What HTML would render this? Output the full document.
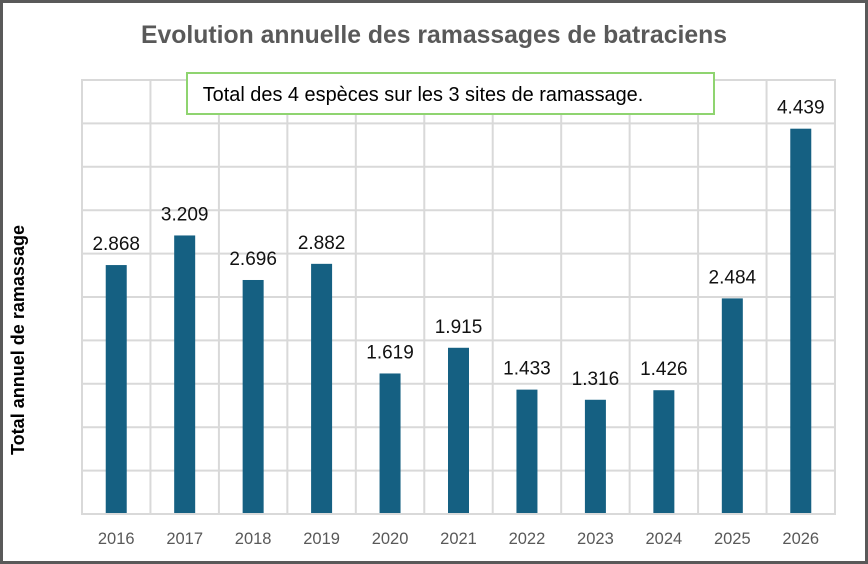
<!DOCTYPE html>
<html>
<head>
<meta charset="utf-8">
<style>
  html, body { margin: 0; padding: 0; background: #ffffff; }
  svg { display: block; }
  text { font-family: "Liberation Sans", Arial, sans-serif; }
</style>
</head>
<body>
<svg width="868" height="564" viewBox="0 0 868 564" xmlns="http://www.w3.org/2000/svg">
  <rect x="0" y="0" width="868" height="564" fill="#ffffff"/>

  <!-- Title -->
  <text x="141" y="43" font-size="25" font-weight="bold" fill="#595959" textLength="586" lengthAdjust="spacingAndGlyphs">Evolution annuelle des ramassages de batraciens</text>

  <!-- Horizontal gridlines -->
  <g stroke="#d9d9d9" stroke-width="2">
    <line x1="82" y1="80" x2="835" y2="80"/>
    <line x1="82" y1="123.4" x2="835" y2="123.4"/>
    <line x1="82" y1="166.8" x2="835" y2="166.8"/>
    <line x1="82" y1="210.2" x2="835" y2="210.2"/>
    <line x1="82" y1="253.6" x2="835" y2="253.6"/>
    <line x1="82" y1="297" x2="835" y2="297"/>
    <line x1="82" y1="340.4" x2="835" y2="340.4"/>
    <line x1="82" y1="383.8" x2="835" y2="383.8"/>
    <line x1="82" y1="427.2" x2="835" y2="427.2"/>
    <line x1="82" y1="470.6" x2="835" y2="470.6"/>
  </g>
  <!-- Vertical gridlines -->
  <g stroke="#d9d9d9" stroke-width="2">
    <line x1="82" y1="79" x2="82" y2="515"/>
    <line x1="150.45" y1="79" x2="150.45" y2="515"/>
    <line x1="218.91" y1="79" x2="218.91" y2="515"/>
    <line x1="287.36" y1="79" x2="287.36" y2="515"/>
    <line x1="355.82" y1="79" x2="355.82" y2="515"/>
    <line x1="424.27" y1="79" x2="424.27" y2="515"/>
    <line x1="492.73" y1="79" x2="492.73" y2="515"/>
    <line x1="561.18" y1="79" x2="561.18" y2="515"/>
    <line x1="629.64" y1="79" x2="629.64" y2="515"/>
    <line x1="698.09" y1="79" x2="698.09" y2="515"/>
    <line x1="766.55" y1="79" x2="766.55" y2="515"/>
    <line x1="835" y1="79" x2="835" y2="515"/>
  </g>

  <!-- Bars -->
  <g fill="#156082">
    <rect x="105.73" y="265.06" width="21" height="248.94"/>
    <rect x="174.18" y="235.46" width="21" height="278.54"/>
    <rect x="242.64" y="279.99" width="21" height="234.01"/>
    <rect x="311.09" y="263.84" width="21" height="250.16"/>
    <rect x="379.55" y="373.47" width="21" height="140.53"/>
    <rect x="448" y="347.78" width="21" height="166.22"/>
    <rect x="516.45" y="389.62" width="21" height="124.38"/>
    <rect x="584.91" y="399.77" width="21" height="114.23"/>
    <rect x="653.36" y="390.22" width="21" height="123.78"/>
    <rect x="721.82" y="298.39" width="21" height="215.61"/>
    <rect x="790.27" y="128.69" width="21" height="385.31"/>
  </g>

  <!-- Baseline -->
  <line x1="81" y1="514" x2="836" y2="514" stroke="#d9d9d9" stroke-width="2"/>

  <!-- Data labels -->
  <g font-size="19" fill="#111111" text-anchor="middle">
    <text x="116.23" y="250.06">2.868</text>
    <text x="184.68" y="220.46">3.209</text>
    <text x="253.14" y="264.99">2.696</text>
    <text x="321.59" y="248.84">2.882</text>
    <text x="390.05" y="358.47">1.619</text>
    <text x="458.5" y="332.78">1.915</text>
    <text x="526.95" y="374.62">1.433</text>
    <text x="595.41" y="384.77">1.316</text>
    <text x="663.86" y="375.22">1.426</text>
    <text x="732.32" y="283.39">2.484</text>
    <text x="800.77" y="113.69">4.439</text>
  </g>

  <!-- X axis labels -->
  <g font-size="16.5" fill="#595959" text-anchor="middle">
    <text x="116.23" y="544">2016</text>
    <text x="184.68" y="544">2017</text>
    <text x="253.14" y="544">2018</text>
    <text x="321.59" y="544">2019</text>
    <text x="390.05" y="544">2020</text>
    <text x="458.5" y="544">2021</text>
    <text x="526.95" y="544">2022</text>
    <text x="595.41" y="544">2023</text>
    <text x="663.86" y="544">2024</text>
    <text x="732.32" y="544">2025</text>
    <text x="800.77" y="544">2026</text>
  </g>

  <!-- Y axis title -->
  <text transform="translate(24,455) rotate(-90)" x="0" y="0" font-size="18" font-weight="bold" fill="#000000" textLength="230" lengthAdjust="spacingAndGlyphs">Total annuel de ramassage</text>

  <!-- Text box -->
  <rect x="187" y="73" width="527" height="41" fill="#ffffff" stroke="#8fd470" stroke-width="2"/>
  <text x="202.7" y="101" font-size="20" fill="#000000" textLength="440.6" lengthAdjust="spacingAndGlyphs">Total des 4 espèces sur les 3 sites de ramassage.</text>

  <!-- Outer border -->
  <rect x="1.5" y="1.5" width="865" height="561" fill="none" stroke="#595959" stroke-width="3"/>
</svg>
</body>
</html>
